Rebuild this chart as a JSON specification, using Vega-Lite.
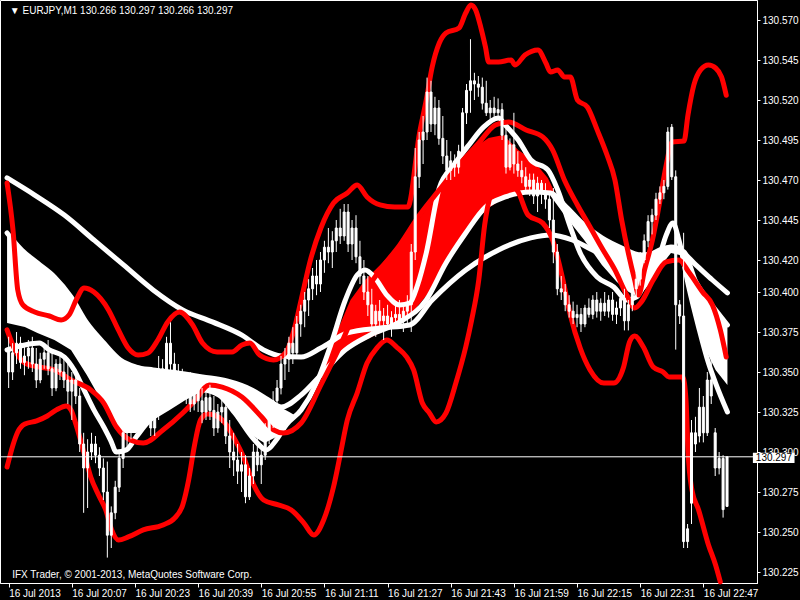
{
"$schema": "https://vega.github.io/schema/vega-lite/v6.json",
"width": 757, "height": 583,
"autosize": {"type": "none"},
"padding": {"left": 0, "top": 0, "right": 43, "bottom": 17},
"background": "black",
"config": {
  "view": {"stroke": "white", "strokeWidth": 1, "fill": "black"},
  "axis": {"grid": false, "domainColor": "white", "tickColor": "white", "labelColor": "white", "labelFont": "Liberation Sans", "labelFontSize": 10, "title": null}
},
"datasets": {
"candles": [
{"m":0,"o":130.365,"h":130.372,"l":130.340,"c":130.350},
{"m":1,"o":130.350,"h":130.368,"l":130.345,"c":130.362},
{"m":2,"o":130.362,"h":130.375,"l":130.355,"c":130.368},
{"m":3,"o":130.368,"h":130.372,"l":130.352,"c":130.356},
{"m":4,"o":130.356,"h":130.366,"l":130.348,"c":130.360},
{"m":5,"o":130.360,"h":130.370,"l":130.352,"c":130.365},
{"m":6,"o":130.365,"h":130.372,"l":130.350,"c":130.355},
{"m":7,"o":130.355,"h":130.365,"l":130.340,"c":130.345},
{"m":8,"o":130.345,"h":130.362,"l":130.343,"c":130.358},
{"m":9,"o":130.358,"h":130.368,"l":130.352,"c":130.362},
{"m":10,"o":130.362,"h":130.370,"l":130.348,"c":130.352},
{"m":11,"o":130.352,"h":130.362,"l":130.335,"c":130.340},
{"m":12,"o":130.340,"h":130.358,"l":130.338,"c":130.355},
{"m":13,"o":130.355,"h":130.362,"l":130.345,"c":130.350},
{"m":14,"o":130.350,"h":130.360,"l":130.340,"c":130.345},
{"m":15,"o":130.345,"h":130.355,"l":130.330,"c":130.338},
{"m":16,"o":130.338,"h":130.350,"l":130.320,"c":130.345},
{"m":17,"o":130.345,"h":130.352,"l":130.330,"c":130.335},
{"m":18,"o":130.335,"h":130.340,"l":130.300,"c":130.305},
{"m":19,"o":130.305,"h":130.312,"l":130.262,"c":130.290},
{"m":20,"o":130.290,"h":130.308,"l":130.265,"c":130.300},
{"m":21,"o":130.300,"h":130.312,"l":130.295,"c":130.305},
{"m":22,"o":130.305,"h":130.310,"l":130.293,"c":130.298},
{"m":23,"o":130.298,"h":130.303,"l":130.285,"c":130.290},
{"m":24,"o":130.290,"h":130.296,"l":130.270,"c":130.275},
{"m":25,"o":130.275,"h":130.294,"l":130.234,"c":130.248},
{"m":26,"o":130.248,"h":130.266,"l":130.240,"c":130.262},
{"m":27,"o":130.262,"h":130.282,"l":130.258,"c":130.278},
{"m":28,"o":130.278,"h":130.300,"l":130.275,"c":130.296},
{"m":29,"o":130.296,"h":130.318,"l":130.290,"c":130.312},
{"m":30,"o":130.312,"h":130.322,"l":130.300,"c":130.315},
{"m":31,"o":130.315,"h":130.328,"l":130.308,"c":130.322},
{"m":32,"o":130.322,"h":130.330,"l":130.312,"c":130.318},
{"m":33,"o":130.318,"h":130.332,"l":130.312,"c":130.328},
{"m":34,"o":130.328,"h":130.338,"l":130.320,"c":130.332},
{"m":35,"o":130.332,"h":130.340,"l":130.322,"c":130.326},
{"m":36,"o":130.326,"h":130.332,"l":130.310,"c":130.315},
{"m":37,"o":130.315,"h":130.328,"l":130.310,"c":130.324},
{"m":38,"o":130.324,"h":130.360,"l":130.320,"c":130.352},
{"m":39,"o":130.352,"h":130.358,"l":130.345,"c":130.350},
{"m":40,"o":130.350,"h":130.372,"l":130.348,"c":130.368},
{"m":41,"o":130.368,"h":130.381,"l":130.350,"c":130.355},
{"m":42,"o":130.355,"h":130.362,"l":130.345,"c":130.350},
{"m":43,"o":130.350,"h":130.355,"l":130.335,"c":130.345},
{"m":44,"o":130.345,"h":130.352,"l":130.332,"c":130.338},
{"m":45,"o":130.338,"h":130.348,"l":130.330,"c":130.342},
{"m":46,"o":130.342,"h":130.350,"l":130.325,"c":130.330},
{"m":47,"o":130.330,"h":130.345,"l":130.326,"c":130.340},
{"m":48,"o":130.340,"h":130.348,"l":130.325,"c":130.332},
{"m":49,"o":130.332,"h":130.340,"l":130.318,"c":130.325},
{"m":50,"o":130.325,"h":130.338,"l":130.320,"c":130.334},
{"m":51,"o":130.334,"h":130.342,"l":130.320,"c":130.326},
{"m":52,"o":130.326,"h":130.335,"l":130.310,"c":130.315},
{"m":53,"o":130.315,"h":130.330,"l":130.312,"c":130.325},
{"m":54,"o":130.325,"h":130.335,"l":130.318,"c":130.328},
{"m":55,"o":130.328,"h":130.333,"l":130.305,"c":130.310},
{"m":56,"o":130.310,"h":130.320,"l":130.290,"c":130.300},
{"m":57,"o":130.300,"h":130.312,"l":130.285,"c":130.295},
{"m":58,"o":130.295,"h":130.305,"l":130.280,"c":130.288},
{"m":59,"o":130.288,"h":130.300,"l":130.275,"c":130.292},
{"m":60,"o":130.292,"h":130.298,"l":130.268,"c":130.272},
{"m":61,"o":130.272,"h":130.290,"l":130.270,"c":130.285},
{"m":62,"o":130.285,"h":130.305,"l":130.280,"c":130.300},
{"m":63,"o":130.300,"h":130.312,"l":130.288,"c":130.292},
{"m":64,"o":130.292,"h":130.305,"l":130.280,"c":130.298},
{"m":65,"o":130.298,"h":130.318,"l":130.295,"c":130.312},
{"m":66,"o":130.312,"h":130.325,"l":130.305,"c":130.320},
{"m":67,"o":130.320,"h":130.338,"l":130.315,"c":130.332},
{"m":68,"o":130.332,"h":130.345,"l":130.325,"c":130.340},
{"m":69,"o":130.340,"h":130.360,"l":130.336,"c":130.355},
{"m":70,"o":130.355,"h":130.365,"l":130.345,"c":130.358},
{"m":71,"o":130.358,"h":130.372,"l":130.350,"c":130.368},
{"m":72,"o":130.368,"h":130.378,"l":130.355,"c":130.362},
{"m":73,"o":130.362,"h":130.385,"l":130.360,"c":130.380},
{"m":74,"o":130.380,"h":130.392,"l":130.372,"c":130.388},
{"m":75,"o":130.388,"h":130.400,"l":130.378,"c":130.395},
{"m":76,"o":130.395,"h":130.408,"l":130.385,"c":130.402},
{"m":77,"o":130.402,"h":130.415,"l":130.395,"c":130.410},
{"m":78,"o":130.410,"h":130.420,"l":130.398,"c":130.405},
{"m":79,"o":130.405,"h":130.425,"l":130.400,"c":130.420},
{"m":80,"o":130.420,"h":130.432,"l":130.412,"c":130.428},
{"m":81,"o":130.428,"h":130.440,"l":130.418,"c":130.425},
{"m":82,"o":130.425,"h":130.438,"l":130.415,"c":130.432},
{"m":83,"o":130.432,"h":130.445,"l":130.425,"c":130.440},
{"m":84,"o":130.440,"h":130.452,"l":130.430,"c":130.435},
{"m":85,"o":130.435,"h":130.455,"l":130.432,"c":130.450},
{"m":86,"o":130.450,"h":130.455,"l":130.425,"c":130.430},
{"m":87,"o":130.430,"h":130.445,"l":130.420,"c":130.440},
{"m":88,"o":130.440,"h":130.448,"l":130.418,"c":130.422},
{"m":89,"o":130.422,"h":130.432,"l":130.405,"c":130.410},
{"m":90,"o":130.410,"h":130.420,"l":130.395,"c":130.400},
{"m":91,"o":130.400,"h":130.410,"l":130.385,"c":130.392},
{"m":92,"o":130.392,"h":130.402,"l":130.375,"c":130.380},
{"m":93,"o":130.380,"h":130.392,"l":130.372,"c":130.388},
{"m":94,"o":130.388,"h":130.395,"l":130.375,"c":130.382},
{"m":95,"o":130.382,"h":130.390,"l":130.370,"c":130.385},
{"m":96,"o":130.385,"h":130.392,"l":130.378,"c":130.380},
{"m":97,"o":130.380,"h":130.388,"l":130.372,"c":130.384},
{"m":98,"o":130.384,"h":130.392,"l":130.378,"c":130.386},
{"m":99,"o":130.386,"h":130.395,"l":130.378,"c":130.382},
{"m":100,"o":130.382,"h":130.392,"l":130.375,"c":130.388},
{"m":101,"o":130.388,"h":130.398,"l":130.380,"c":130.392},
{"m":102,"o":130.392,"h":130.430,"l":130.375,"c":130.425},
{"m":103,"o":130.425,"h":130.490,"l":130.420,"c":130.472},
{"m":104,"o":130.472,"h":130.500,"l":130.465,"c":130.495},
{"m":105,"o":130.495,"h":130.510,"l":130.480,"c":130.500},
{"m":106,"o":130.500,"h":130.534,"l":130.495,"c":130.525},
{"m":107,"o":130.525,"h":130.532,"l":130.500,"c":130.505},
{"m":108,"o":130.505,"h":130.522,"l":130.498,"c":130.515},
{"m":109,"o":130.515,"h":130.520,"l":130.492,"c":130.496},
{"m":110,"o":130.496,"h":130.510,"l":130.480,"c":130.485},
{"m":111,"o":130.485,"h":130.495,"l":130.470,"c":130.476},
{"m":112,"o":130.476,"h":130.488,"l":130.470,"c":130.482},
{"m":113,"o":130.482,"h":130.486,"l":130.472,"c":130.478},
{"m":114,"o":130.478,"h":130.492,"l":130.474,"c":130.488},
{"m":115,"o":130.488,"h":130.515,"l":130.486,"c":130.512},
{"m":116,"o":130.512,"h":130.530,"l":130.505,"c":130.526},
{"m":117,"o":130.526,"h":130.558,"l":130.512,"c":130.532},
{"m":118,"o":130.532,"h":130.537,"l":130.520,"c":130.530},
{"m":119,"o":130.530,"h":130.535,"l":130.522,"c":130.528},
{"m":120,"o":130.528,"h":130.534,"l":130.514,"c":130.518},
{"m":121,"o":130.518,"h":130.532,"l":130.510,"c":130.512},
{"m":122,"o":130.512,"h":130.520,"l":130.505,"c":130.515},
{"m":123,"o":130.515,"h":130.522,"l":130.508,"c":130.512},
{"m":124,"o":130.512,"h":130.521,"l":130.510,"c":130.514},
{"m":125,"o":130.514,"h":130.518,"l":130.495,"c":130.498},
{"m":126,"o":130.498,"h":130.502,"l":130.474,"c":130.478},
{"m":127,"o":130.478,"h":130.496,"l":130.476,"c":130.492},
{"m":128,"o":130.492,"h":130.512,"l":130.474,"c":130.480},
{"m":129,"o":130.480,"h":130.488,"l":130.472,"c":130.476},
{"m":130,"o":130.476,"h":130.482,"l":130.468,"c":130.472},
{"m":131,"o":130.472,"h":130.478,"l":130.462,"c":130.466},
{"m":132,"o":130.466,"h":130.474,"l":130.460,"c":130.470},
{"m":133,"o":130.470,"h":130.474,"l":130.455,"c":130.460},
{"m":134,"o":130.460,"h":130.472,"l":130.450,"c":130.468},
{"m":135,"o":130.468,"h":130.470,"l":130.455,"c":130.462},
{"m":136,"o":130.462,"h":130.468,"l":130.452,"c":130.458},
{"m":137,"o":130.458,"h":130.462,"l":130.440,"c":130.445},
{"m":138,"o":130.445,"h":130.465,"l":130.418,"c":130.425},
{"m":139,"o":130.425,"h":130.430,"l":130.398,"c":130.402},
{"m":140,"o":130.402,"h":130.410,"l":130.395,"c":130.400},
{"m":141,"o":130.400,"h":130.405,"l":130.388,"c":130.392},
{"m":142,"o":130.392,"h":130.398,"l":130.384,"c":130.388},
{"m":143,"o":130.388,"h":130.394,"l":130.380,"c":130.384},
{"m":144,"o":130.384,"h":130.392,"l":130.378,"c":130.386},
{"m":145,"o":130.386,"h":130.390,"l":130.375,"c":130.380},
{"m":146,"o":130.380,"h":130.392,"l":130.378,"c":130.390},
{"m":147,"o":130.390,"h":130.396,"l":130.384,"c":130.386},
{"m":148,"o":130.386,"h":130.398,"l":130.383,"c":130.395},
{"m":149,"o":130.395,"h":130.400,"l":130.384,"c":130.388},
{"m":150,"o":130.388,"h":130.396,"l":130.382,"c":130.393},
{"m":151,"o":130.393,"h":130.400,"l":130.385,"c":130.388},
{"m":152,"o":130.388,"h":130.398,"l":130.384,"c":130.395},
{"m":153,"o":130.395,"h":130.400,"l":130.382,"c":130.386},
{"m":154,"o":130.386,"h":130.394,"l":130.380,"c":130.390},
{"m":155,"o":130.390,"h":130.398,"l":130.385,"c":130.396},
{"m":156,"o":130.396,"h":130.402,"l":130.376,"c":130.382},
{"m":157,"o":130.382,"h":130.395,"l":130.376,"c":130.392},
{"m":158,"o":130.392,"h":130.405,"l":130.388,"c":130.402},
{"m":159,"o":130.402,"h":130.412,"l":130.396,"c":130.408},
{"m":160,"o":130.408,"h":130.425,"l":130.404,"c":130.420},
{"m":161,"o":130.420,"h":130.436,"l":130.418,"c":130.432},
{"m":162,"o":130.432,"h":130.448,"l":130.428,"c":130.444},
{"m":163,"o":130.444,"h":130.452,"l":130.436,"c":130.448},
{"m":164,"o":130.448,"h":130.462,"l":130.445,"c":130.458},
{"m":165,"o":130.458,"h":130.466,"l":130.455,"c":130.462},
{"m":166,"o":130.462,"h":130.470,"l":130.458,"c":130.466},
{"m":167,"o":130.466,"h":130.503,"l":130.464,"c":130.500},
{"m":168,"o":130.503,"h":130.505,"l":130.470,"c":130.472},
{"m":169,"o":130.472,"h":130.476,"l":130.364,"c":130.392},
{"m":170,"o":130.392,"h":130.395,"l":130.380,"c":130.385},
{"m":171,"o":130.385,"h":130.437,"l":130.240,"c":130.244},
{"m":172,"o":130.244,"h":130.255,"l":130.240,"c":130.252},
{"m":173,"o":130.268,"h":130.320,"l":130.255,"c":130.312},
{"m":174,"o":130.312,"h":130.322,"l":130.300,"c":130.305},
{"m":175,"o":130.310,"h":130.340,"l":130.306,"c":130.328},
{"m":176,"o":130.328,"h":130.335,"l":130.306,"c":130.312},
{"m":177,"o":130.312,"h":130.350,"l":130.310,"c":130.345},
{"m":178,"o":130.345,"h":130.367,"l":130.330,"c":130.335},
{"m":179,"o":130.312,"h":130.315,"l":130.285,"c":130.290},
{"m":180,"o":130.290,"h":130.300,"l":130.286,"c":130.296},
{"m":181,"o":130.296,"h":130.298,"l":130.259,"c":130.264},
{"m":182,"o":130.266,"h":130.297,"l":130.266,"c":130.297}
],
"ub": [
{"m":-0.4,"p":130.4681},{"m":1.1,"p":130.4387},{"m":2.3,"p":130.4013},{"m":3.6,"p":130.3919},{"m":6.6,"p":130.3875},{"m":10.3,"p":130.385},{"m":13.3,"p":130.3825},{"m":15.3,"p":130.3856},{"m":17.1,"p":130.395},{"m":19.1,"p":130.4025},{"m":21.6,"p":130.400},{"m":25.3,"p":130.3888},{"m":27.8,"p":130.3763},{"m":30.3,"p":130.365},{"m":32.8,"p":130.3606},{"m":35.3,"p":130.3619},{"m":37.8,"p":130.370},{"m":40.3,"p":130.3813},{"m":43.3,"p":130.3875},{"m":46.6,"p":130.3794},{"m":49.1,"p":130.3681},{"m":52.8,"p":130.3625},{"m":56.6,"p":130.3625},{"m":59.1,"p":130.3669},{"m":61.1,"p":130.3681},{"m":63.6,"p":130.3606},{"m":67.1,"p":130.3575},{"m":70.3,"p":130.3625},{"m":72.3,"p":130.3763},{"m":74.1,"p":130.395},{"m":76.6,"p":130.4213},{"m":79.1,"p":130.440},{"m":82.3,"p":130.4556},{"m":85.8,"p":130.4619},{"m":88.3,"p":130.4669},{"m":90.8,"p":130.4594},{"m":94.1,"p":130.4544},{"m":97.8,"p":130.4531},{"m":101.1,"p":130.4531},{"m":104.1,"p":130.4994},{"m":105.8,"p":130.520},{"m":107.3,"p":130.5406},{"m":109.1,"p":130.5556},{"m":110.8,"p":130.5619},{"m":114.1,"p":130.565},{"m":115.8,"p":130.5744},{"m":117.1,"p":130.5794},{"m":118.3,"p":130.5763},{"m":119.6,"p":130.5656},{"m":120.8,"p":130.5531},{"m":121.6,"p":130.5438},{"m":124.1,"p":130.5438},{"m":127.3,"p":130.545},{"m":128.3,"p":130.5419},{"m":130.8,"p":130.5481},{"m":134.1,"p":130.5513},{"m":136.1,"p":130.5431},{"m":137.3,"p":130.5375},{"m":139.1,"p":130.5388},{"m":140.8,"p":130.5344},{"m":142.3,"p":130.5344},{"m":144.1,"p":130.520},{"m":146.6,"p":130.5156},{"m":149.1,"p":130.5013},{"m":151.6,"p":130.4856},{"m":153.6,"p":130.470},{"m":155.3,"p":130.445},{"m":157.1,"p":130.4231},{"m":158.6,"p":130.4075},{"m":159.6,"p":130.3981},{"m":161.1,"p":130.4138},{"m":163.1,"p":130.4325},{"m":164.8,"p":130.4544},{"m":166.6,"p":130.4794},{"m":168.1,"p":130.4938},{"m":171.1,"p":130.4944},{"m":172.1,"p":130.5106},{"m":173.6,"p":130.5294},{"m":175.3,"p":130.5388},{"m":177.3,"p":130.5419},{"m":179.1,"p":130.54},{"m":180.6,"p":130.5344},{"m":181.8,"p":130.523}
],
"lb": [
{"m":-0.4,"p":130.2906},{"m":1.1,"p":130.3044},{"m":2.3,"p":130.3125},{"m":4.1,"p":130.3175},{"m":7.1,"p":130.3194},{"m":9.8,"p":130.3225},{"m":12.1,"p":130.3263},{"m":14.6,"p":130.3288},{"m":15.8,"p":130.3263},{"m":17.1,"p":130.3169},{"m":19.1,"p":130.2994},{"m":20.8,"p":130.2844},{"m":22.8,"p":130.273},{"m":24.6,"p":130.2638},{"m":26.1,"p":130.2513},{"m":27.8,"p":130.245},{"m":30.3,"p":130.2469},{"m":34.1,"p":130.2513},{"m":39.1,"p":130.2544},{"m":42.1,"p":130.2588},{"m":44.1,"p":130.2669},{"m":45.6,"p":130.2825},{"m":47.1,"p":130.3044},{"m":48.6,"p":130.320},{"m":50.3,"p":130.3238},{"m":52.1,"p":130.3231},{"m":54.6,"p":130.3188},{"m":57.1,"p":130.3088},{"m":59.6,"p":130.2963},{"m":62.1,"p":130.2794},{"m":64.6,"p":130.270},{"m":68.3,"p":130.2669},{"m":71.6,"p":130.2638},{"m":74.8,"p":130.2556},{"m":77.3,"p":130.2481},{"m":79.8,"p":130.2575},{"m":82.3,"p":130.2781},{"m":84.1,"p":130.2994},{"m":85.8,"p":130.320},{"m":88.3,"p":130.3369},{"m":90.8,"p":130.3556},{"m":93.3,"p":130.365},{"m":95.8,"p":130.370},{"m":98.3,"p":130.3656},{"m":100.8,"p":130.3594},{"m":102.6,"p":130.3513},{"m":104.8,"p":130.3306},{"m":106.6,"p":130.3244},{"m":108.3,"p":130.3188},{"m":110.8,"p":130.3244},{"m":113.3,"p":130.3431},{"m":115.8,"p":130.3656},{"m":117.3,"p":130.3825},{"m":119.1,"p":130.4075},{"m":120.6,"p":130.4419},{"m":122.1,"p":130.4606},{"m":124.1,"p":130.4681},{"m":126.6,"p":130.4688},{"m":129.1,"p":130.4625},{"m":131.6,"p":130.4481},{"m":135.3,"p":130.4431},{"m":137.8,"p":130.4325},{"m":139.1,"p":130.4213},{"m":140.3,"p":130.4088},{"m":142.3,"p":130.3856},{"m":144.8,"p":130.365},{"m":147.3,"p":130.3513},{"m":150.8,"p":130.3431},{"m":153.3,"p":130.3431},{"m":155.8,"p":130.3531},{"m":157.3,"p":130.3688},{"m":158.6,"p":130.3725},{"m":160.8,"p":130.3656},{"m":163.3,"p":130.3531},{"m":165.8,"p":130.35},{"m":167.3,"p":130.3469},{"m":170.8,"p":130.3469},{"m":171.6,"p":130.3325},{"m":172.1,"p":130.3013},{"m":173.1,"p":130.2763},{"m":174.8,"p":130.2638},{"m":177.3,"p":130.2419},{"m":179.1,"p":130.2294},{"m":180.3,"p":130.2188}
],
"rline": [
{"m":-0.4,"p":130.3763},{"m":1.6,"p":130.3638},{"m":4.1,"p":130.3556},{"m":7.8,"p":130.3531},{"m":11.6,"p":130.3513},{"m":15.8,"p":130.345},{"m":20.8,"p":130.3388},{"m":24.1,"p":130.3306},{"m":27.3,"p":130.3156},{"m":30.8,"p":130.3075},{"m":34.1,"p":130.3056},{"m":39.1,"p":130.3138},{"m":44.1,"p":130.3244},{"m":47.3,"p":130.3325},{"m":50.8,"p":130.3419},{"m":54.1,"p":130.3406},{"m":59.1,"p":130.3344},{"m":64.1,"p":130.3219},{"m":67.1,"p":130.3138},{"m":69.6,"p":130.3119},{"m":74.1,"p":130.3181},{"m":79.1,"p":130.3419},{"m":84.1,"p":130.3669},{"m":89.1,"p":130.395},{"m":94.1,"p":130.4138},{"m":99.1,"p":130.4294},{"m":104.1,"p":130.4481},{"m":109.1,"p":130.4638},{"m":114.1,"p":130.4794},{"m":119.1,"p":130.4931},{"m":123.3,"p":130.5044},{"m":126.6,"p":130.5063},{"m":131.1,"p":130.5013},{"m":135.3,"p":130.4969},{"m":137.8,"p":130.4888},{"m":140.8,"p":130.47},{"m":144.1,"p":130.4544},{"m":147.3,"p":130.4406},{"m":150.3,"p":130.4275},{"m":153.6,"p":130.4138},{"m":156.6,"p":130.3981},{"m":158.6,"p":130.39},{"m":160.3,"p":130.3938},{"m":163.3,"p":130.4075},{"m":166.6,"p":130.4188},{"m":169.8,"p":130.42},{"m":172.3,"p":130.4125},{"m":175.8,"p":130.40},{"m":178.3,"p":130.3919},{"m":180.3,"p":130.3763},{"m":181.8,"p":130.3594}
],
"wslow": [
{"m":-0.4,"p":130.4713},{"m":6.6,"p":130.4606},{"m":14.1,"p":130.4481},{"m":21.6,"p":130.4325},{"m":29.1,"p":130.4169},{"m":36.6,"p":130.4013},{"m":44.1,"p":130.3888},{"m":51.6,"p":130.3813},{"m":59.1,"p":130.373},{"m":64.6,"p":130.3638},{"m":69.1,"p":130.36},{"m":74.1,"p":130.3594},{"m":79.1,"p":130.365},{"m":85.8,"p":130.3744},{"m":94.1,"p":130.3775},{"m":101.6,"p":130.3794},{"m":107.3,"p":130.395},{"m":115.8,"p":130.4138},{"m":124.1,"p":130.4263},{"m":132.3,"p":130.4338},{"m":137.3,"p":130.4356},{"m":142.8,"p":130.4325},{"m":149.1,"p":130.425},{"m":154.1,"p":130.4219},{"m":160.8,"p":130.4219},{"m":166.6,"p":130.4275},{"m":169.8,"p":130.4263},{"m":174.1,"p":130.4169},{"m":178.3,"p":130.4075},{"m":182.1,"p":130.3994}
],
"wmed": [
{"m":-0.4,"p":130.4369},{"m":3.3,"p":130.4263},{"m":7.3,"p":130.4181},{"m":11.6,"p":130.4094},{"m":15.8,"p":130.3969},{"m":19.8,"p":130.3806},{"m":24.1,"p":130.3681},{"m":28.3,"p":130.3575},{"m":32.3,"p":130.3531},{"m":36.6,"p":130.3513},{"m":42.8,"p":130.3494},{"m":49.1,"p":130.3469},{"m":55.3,"p":130.3444},{"m":61.6,"p":130.3388},{"m":65.8,"p":130.3325},{"m":69.1,"p":130.3281},{"m":74.1,"p":130.3356},{"m":79.1,"p":130.3481},{"m":85.3,"p":130.3638},{"m":91.6,"p":130.3731},{"m":99.1,"p":130.3813},{"m":105.8,"p":130.395},{"m":110.8,"p":130.4181},{"m":115.8,"p":130.4369},{"m":120.8,"p":130.4531},{"m":125.8,"p":130.4594},{"m":132.3,"p":130.4625},{"m":137.3,"p":130.4619},{"m":140.8,"p":130.4544},{"m":145.8,"p":130.4419},{"m":150.3,"p":130.4338},{"m":155.3,"p":130.4275},{"m":160.3,"p":130.4231},{"m":164.1,"p":130.4244},{"m":167.8,"p":130.4281},{"m":171.1,"p":130.425},{"m":174.1,"p":130.4063},{"m":176.6,"p":130.3969},{"m":179.1,"p":130.3888},{"m":182.1,"p":130.3794}
],
"wfast": [
{"m":-0.4,"p":130.3638},{"m":4.1,"p":130.3669},{"m":7.8,"p":130.3681},{"m":10.3,"p":130.3638},{"m":14.1,"p":130.3594},{"m":16.6,"p":130.3513},{"m":19.1,"p":130.3388},{"m":21.6,"p":130.3263},{"m":24.1,"p":130.3156},{"m":25.8,"p":130.3075},{"m":27.3,"p":130.300},{"m":29.8,"p":130.3013},{"m":32.3,"p":130.3094},{"m":35.8,"p":130.320},{"m":39.1,"p":130.3263},{"m":44.1,"p":130.3356},{"m":49.1,"p":130.3388},{"m":53.3,"p":130.3356},{"m":57.3,"p":130.3244},{"m":62.3,"p":130.3075},{"m":65.3,"p":130.3013},{"m":67.8,"p":130.3075},{"m":70.3,"p":130.3169},{"m":74.1,"p":130.3263},{"m":77.8,"p":130.3419},{"m":81.6,"p":130.3669},{"m":85.3,"p":130.395},{"m":88.3,"p":130.4106},{"m":90.3,"p":130.4138},{"m":92.8,"p":130.4088},{"m":95.8,"p":130.3981},{"m":99.1,"p":130.3919},{"m":101.6,"p":130.3931},{"m":103.6,"p":130.4044},{"m":105.8,"p":130.4244},{"m":109.1,"p":130.465},{"m":112.8,"p":130.4794},{"m":116.6,"p":130.4919},{"m":120.3,"p":130.5031},{"m":124.1,"p":130.5088},{"m":125.8,"p":130.5044},{"m":129.1,"p":130.495},{"m":132.3,"p":130.4825},{"m":136.6,"p":130.4763},{"m":139.1,"p":130.4638},{"m":142.3,"p":130.4406},{"m":144.8,"p":130.4244},{"m":149.1,"p":130.4094},{"m":153.3,"p":130.4031},{"m":156.6,"p":130.395},{"m":159.1,"p":130.3969},{"m":161.6,"p":130.4075},{"m":164.8,"p":130.4219},{"m":166.6,"p":130.4356},{"m":168.3,"p":130.4431},{"m":169.8,"p":130.4325},{"m":172.3,"p":130.4031},{"m":174.8,"p":130.3781},{"m":177.3,"p":130.3556},{"m":179.1,"p":130.3431},{"m":182.1,"p":130.325}
],
"fillw": [
{"seg":"a","m":-0.4,"top":130.4369,"bot":130.3806},{"seg":"a","m":4.1,"top":130.425,"bot":130.3781},{"seg":"a","m":7.3,"top":130.4181,"bot":130.3744},{"seg":"a","m":11.6,"top":130.4094,"bot":130.370},{"seg":"a","m":15.8,"top":130.3969,"bot":130.3638},{"seg":"a","m":19.8,"top":130.3806,"bot":130.3481},{"seg":"a","m":24.1,"top":130.3681,"bot":130.3294},{"seg":"a","m":28.3,"top":130.3575,"bot":130.3119},{"seg":"a","m":32.3,"top":130.3531,"bot":130.3119},{"seg":"a","m":36.6,"top":130.3513,"bot":130.320},{"seg":"a","m":40.8,"top":130.350,"bot":130.3263},{"seg":"a","m":44.8,"top":130.3494,"bot":130.3325},{"seg":"a","m":49.1,"top":130.3469,"bot":130.3381},{"seg":"a","m":53.3,"top":130.345,"bot":130.3356},{"seg":"a","m":57.3,"top":130.3431,"bot":130.325},{"seg":"a","m":61.6,"top":130.3388,"bot":130.3106},{"seg":"a","m":64.8,"top":130.3338,"bot":130.3056},{"seg":"a","m":67.8,"top":130.3294,"bot":130.3094},{"seg":"a","m":71.1,"top":130.325,"bot":130.320},{"seg":"a","m":72.8,"top":130.3225,"bot":130.3219},
{"seg":"b","m":137.3,"top":130.4619,"bot":130.460},{"seg":"b","m":140.8,"top":130.4544,"bot":130.4481},{"seg":"b","m":145.8,"top":130.4419,"bot":130.4325},{"seg":"b","m":150.3,"top":130.4338,"bot":130.4169},{"seg":"b","m":154.1,"top":130.4288,"bot":130.4063},{"seg":"b","m":157.1,"top":130.4263,"bot":130.400},{"seg":"b","m":159.6,"top":130.4244,"bot":130.3969},{"seg":"b","m":162.1,"top":130.4238,"bot":130.4044},{"seg":"b","m":164.8,"top":130.425,"bot":130.415},{"seg":"b","m":167.8,"top":130.4281,"bot":130.4244},{"seg":"b","m":171.1,"top":130.425,"bot":130.4225},
{"seg":"c","m":171.1,"top":130.425,"bot":130.4225},{"seg":"c","m":172.3,"top":130.4188,"bot":130.4044},{"seg":"c","m":174.1,"top":130.4063,"bot":130.3825},{"seg":"c","m":176.6,"top":130.3969,"bot":130.3638},{"seg":"c","m":179.1,"top":130.3888,"bot":130.3513},{"seg":"c","m":182.1,"top":130.3794,"bot":130.3419}
],
"fillr": [
{"m":76.6,"top":130.3375,"bot":130.3369},{"m":79.1,"top":130.350,"bot":130.3463},{"m":82.8,"top":130.3731,"bot":130.3575},{"m":86.6,"top":130.395,"bot":130.365},{"m":90.3,"top":130.4075,"bot":130.370},{"m":94.1,"top":130.4169,"bot":130.3744},{"m":99.1,"top":130.4294,"bot":130.3806},{"m":102.8,"top":130.4419,"bot":130.3888},{"m":106.6,"top":130.4544,"bot":130.400},{"m":110.3,"top":130.4669,"bot":130.4169},{"m":114.1,"top":130.4794,"bot":130.4306},{"m":117.8,"top":130.490,"bot":130.4438},{"m":121.6,"top":130.4963,"bot":130.4525},{"m":125.3,"top":130.4981,"bot":130.4588},{"m":129.1,"top":130.4888,"bot":130.4613},{"m":132.8,"top":130.4825,"bot":130.4625},{"m":136.6,"top":130.4713,"bot":130.4619},{"m":138.3,"top":130.4625,"bot":130.4606}
]
},
"layer": [
{"data": {"name": "fillw"}, "mark": {"type": "area", "color": "white", "opacity": 1},
 "encoding": {"x": {"field": "m", "type": "quantitative", "scale": {"domain": [-0.925, 188.325], "nice": false, "zero": false},
   "axis": {"orient": "bottom", "values": [0,16,32,48,64,80,96,112,128,144,160,176], "labelExpr": "['16 Jul 2013','16 Jul 20:07','16 Jul 20:23','16 Jul 20:39','16 Jul 20:55','16 Jul 21:11','16 Jul 21:27','16 Jul 21:43','16 Jul 21:59','16 Jul 22:15','16 Jul 22:31','16 Jul 22:47'][round(datum.value/16)]", "labelAlign": "left", "labelDx": -1, "labelBaseline": "top", "labelPadding": 1, "tickSize": 4, "labelFlush": false, "labelOverlap": false, "title": null}},
  "y": {"field": "top", "type": "quantitative", "scale": {"domain": [130.218125, 130.5825], "nice": false, "zero": false},
   "axis": {"orient": "right", "values": [130.570,130.545,130.520,130.495,130.470,130.445,130.420,130.400,130.375,130.350,130.325,130.300,130.275,130.250,130.225], "format": ".3f", "tickSize": 3, "labelPadding": 2, "labelBaseline": "middle", "labelFlush": false, "labelOverlap": false, "title": null}},
  "y2": {"field": "bot"}, "detail": {"field": "seg"}}},
{"data": {"name": "fillr"}, "mark": {"type": "area", "color": "#ff0000", "opacity": 1},
 "encoding": {"x": {"field": "m", "type": "quantitative"}, "y": {"field": "top", "type": "quantitative", "title": null}, "y2": {"field": "bot"}}},
{"data": {"name": "wslow"}, "mark": {"type": "line", "color": "white", "strokeWidth": 5, "interpolate": "monotone", "strokeCap": "round", "strokeJoin": "round"},
 "encoding": {"x": {"field": "m", "type": "quantitative"}, "y": {"field": "p", "type": "quantitative", "title": null}}},
{"data": {"name": "wmed"}, "mark": {"type": "line", "color": "white", "strokeWidth": 5, "interpolate": "monotone", "strokeCap": "round", "strokeJoin": "round"},
 "encoding": {"x": {"field": "m", "type": "quantitative"}, "y": {"field": "p", "type": "quantitative", "title": null}}},
{"data": {"name": "wfast"}, "mark": {"type": "line", "color": "white", "strokeWidth": 5, "interpolate": "monotone", "strokeCap": "round", "strokeJoin": "round"},
 "encoding": {"x": {"field": "m", "type": "quantitative"}, "y": {"field": "p", "type": "quantitative", "title": null}}},
{"data": {"name": "rline"}, "mark": {"type": "line", "color": "#ff0000", "strokeWidth": 5, "interpolate": "monotone", "strokeCap": "round", "strokeJoin": "round"},
 "encoding": {"x": {"field": "m", "type": "quantitative"}, "y": {"field": "p", "type": "quantitative", "title": null}}},
{"data": {"name": "ub"}, "mark": {"type": "line", "color": "#ff0000", "strokeWidth": 5, "interpolate": "monotone", "strokeCap": "round", "strokeJoin": "round"},
 "encoding": {"x": {"field": "m", "type": "quantitative"}, "y": {"field": "p", "type": "quantitative", "title": null}}},
{"data": {"name": "lb"}, "mark": {"type": "line", "color": "#ff0000", "strokeWidth": 5, "interpolate": "monotone", "strokeCap": "round", "strokeJoin": "round"},
 "encoding": {"x": {"field": "m", "type": "quantitative"}, "y": {"field": "p", "type": "quantitative", "title": null}}},
{"data": {"name": "candles"}, "mark": {"type": "rule", "color": "white", "strokeWidth": 1},
 "encoding": {"x": {"field": "m", "type": "quantitative"}, "y": {"field": "l", "type": "quantitative", "title": null}, "y2": {"field": "h"}}},
{"data": {"name": "candles"}, "mark": {"type": "bar", "size": 2, "color": "white", "stroke": "white", "strokeWidth": 1},
 "encoding": {"x": {"field": "m", "type": "quantitative"}, "y": {"field": "o", "type": "quantitative", "title": null}, "y2": {"field": "c"}}},
{"data": {"values": [{"price": 130.297}]}, "mark": {"type": "rule", "color": "white", "strokeWidth": 1},
 "encoding": {"y": {"field": "price", "type": "quantitative", "title": null}}},
{"data": {"values": [{}]}, "mark": {"type": "rect", "color": "white"},
 "encoding": {"x": {"datum": 188.55}, "x2": {"datum": 199.1}, "y": {"datum": 130.2995}, "y2": {"datum": 130.2931}}},
{"data": {"values": [{}]}, "mark": {"type": "text", "color": "black", "align": "left", "baseline": "middle", "font": "Liberation Sans", "fontSize": 10},
 "encoding": {"x": {"datum": 189.3}, "y": {"datum": 130.2963}, "text": {"value": "130.297"}}},
{"data": {"values": [{}]}, "mark": {"type": "text", "color": "white", "align": "left", "baseline": "middle", "font": "Liberation Sans", "fontSize": 10},
 "encoding": {"x": {"datum": 0.9}, "y": {"datum": 130.2231}, "text": {"value": "IFX Trader, © 2001-2013, MetaQuotes Software Corp."}}},
{"data": {"values": [{}]}, "mark": {"type": "text", "color": "white", "align": "left", "baseline": "middle", "font": "Liberation Sans", "fontSize": 10},
 "encoding": {"x": {"datum": 0.3}, "y": {"datum": 130.5756}, "text": {"value": "▼  EURJPY,M1  130.266 130.297 130.266 130.297"}}}
]
}
